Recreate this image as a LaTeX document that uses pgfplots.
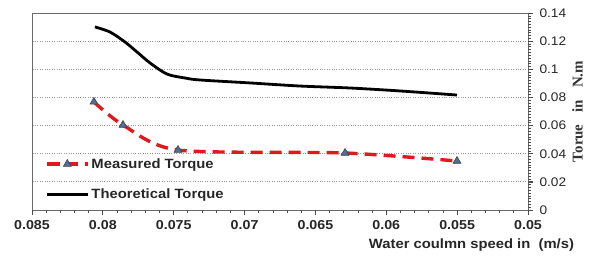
\documentclass[border=0pt]{standalone}
\usepackage{pgfplots}
\pgfplotsset{compat=1.18}
\usepackage{fontspec}
\setmainfont{Liberation Sans}[FakeStretch=1.1]
\newfontfamily\serifb{Liberation Serif}
\definecolor{mred}{HTML}{E0191E}
\definecolor{mblue}{HTML}{4A6FA0}
\definecolor{axgray}{HTML}{6A6A6A}
\begin{document}
\begin{tikzpicture}
\begin{axis}[
  scale only axis, width=496bp, height=197bp,
  at={(0,0)}, anchor=south west,
  x dir=reverse,
  scaled ticks=false,
  xmin=0.05, xmax=0.085, ymin=0, ymax=0.14,
  xtick={0.05,0.055,0.06,0.065,0.07,0.075,0.08,0.085},
  xticklabels={0.05,0.055,0.06,0.065,0.07,0.075,0.08,0.085},
  ytick={0,0.02,0.04,0.06,0.08,0.1,0.12,0.14},
  yticklabels={0,0.02,0.04,0.06,0.08,0.1,0.12,0.14},
  xtick pos=bottom, ytick pos=right, yticklabel pos=right,
  tick align=outside,
  major tick length=5bp,
  every major tick/.append style={black!70, line width=0.8bp},
  axis line style={axgray, line width=0.8bp},
  ymajorgrids, major grid style={draw=gray!80, dotted, line width=0.8bp},
  xticklabel style={font=\bfseries\fontsize{13}{15}\selectfont, text=black!85, yshift=-2bp},
  yticklabel style={font=\fontsize{12.5}{14}\selectfont, text=black!85, xshift=3bp},
  clip=false,
  legend cell align=left,
  legend style={draw=none, fill=none, at={(rel axis cs:0.02,0.03)}, anchor=south west,
    font=\bfseries\fontsize{13.5}{15}\selectfont, text=black!85, row sep=15bp},
  legend image code/.code={
    \draw[mark repeat=2,mark phase=2,#1] plot coordinates {(0bp,0bp) (20.5bp,0bp) (41bp,0bp)};
  },
]
\addplot[mred, line width=3.4bp, dash pattern=on 12bp off 7bp, smooth, tension=0.45,
  mark=triangle*, mark size=4.5bp,
  mark options={solid, fill=mblue, draw=black!75, line width=0.6bp}]
  coordinates {
  (0.08063,0.0768) (0.07858,0.0604) (0.07470,0.0426) (0.06291,0.0405) (0.05501,0.0348)
  };
\addlegendentry{Measured Torque}
\addplot[black, line width=2.8bp, smooth, tension=0.5]
  coordinates {
  (0.08056,0.1301) (0.07950,0.1265) (0.07844,0.1194) (0.07759,0.1123) (0.07667,0.1045)
  (0.07547,0.0966) (0.07420,0.0938) (0.07315,0.0924) (0.06962,0.0903) (0.06609,0.0881)
  (0.06256,0.0867) (0.05903,0.0846) (0.05501,0.0817)
  };
\addlegendentry{Theoretical Torque}
\node[rotate=90, font=\serifb\bfseries\fontsize{15}{17}\selectfont, text=black!80]
  at (rel axis cs:1.1,0.5) {Torue\hspace{12bp}in\hspace{12bp}N.m};
\node[font=\bfseries\fontsize{13.5}{15}\selectfont, text=black!85]
  at (rel axis cs:0.886,-0.178) {Water coulmn speed in\ \ (m/s)};
\end{axis}
% axis tick marks (decoration): x every 0.001, y every 0.002
\foreach \i in {0,...,35}{
  \pgfmathsetmacro\len{ifthenelse(mod(\i,5)==0,5,3.5)}
  \draw[black!70, line width=0.8bp] ({\i*14.1714bp},0) -- ({\i*14.1714bp},{-\len*1bp});
}
\foreach \j in {0,...,70}{
  \pgfmathsetmacro\len{ifthenelse(mod(\j,10)==0,5,3)}
  \draw[black!70, line width=0.6bp] (496bp,{\j*2.81429bp}) -- ({496bp+\len*1bp},{\j*2.81429bp});
}
\path (-32bp,-49bp) rectangle (564bp,210bp);
\end{tikzpicture}
\end{document}
